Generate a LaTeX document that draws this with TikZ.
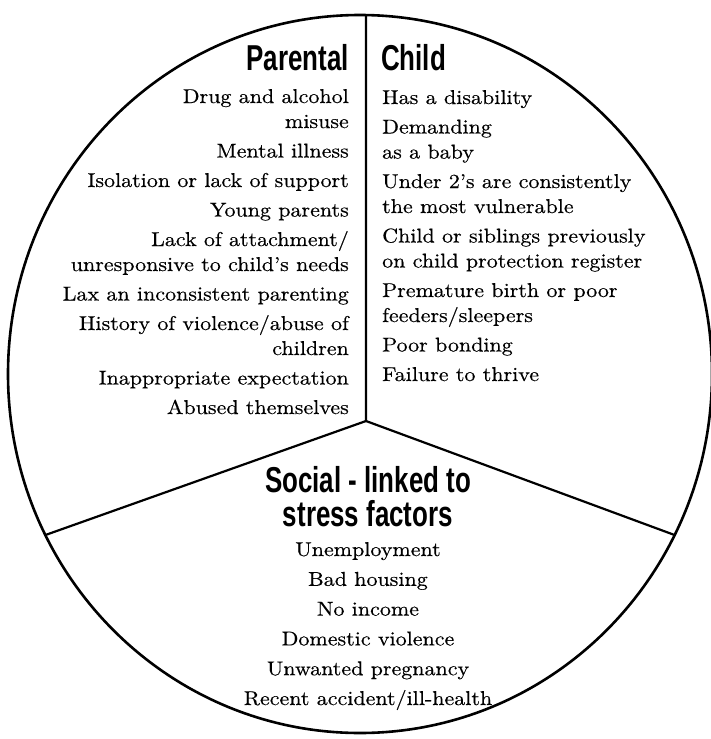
\documentclass[tikz,border=0pt]{standalone}
\usepackage{fontspec}
\setmainfont{lmroman10-regular.otf}[FakeStretch=1.1, FakeBold=0.4]
\newfontfamily\headfont{Liberation Sans}[FakeStretch=0.72]

\begin{document}
\begin{tikzpicture}[x=1pt, y=-1pt,
        rim/.style={line width=2.6pt},
        spoke/.style={line width=2.2pt},
        head/.style={font=\headfont\bfseries\fontsize{36}{34}\selectfont, inner sep=0pt},
        item/.style={font=\fontsize{20}{25}\selectfont, inner sep=0pt},
        socialitem/.style={item, font=\fontsize{20}{29.8}\selectfont},
    ]
    \useasboundingbox (0,0) rectangle (711,739);
    \coordinate (c) at (360,374);
    \coordinate (hub) at (366,421);
    \coordinate (top) at (366,15);
    \path (c) ++(153.35:352 and 359) coordinate (leftend);
    \path (c) ++(26.65:352 and 359) coordinate (rightend);

    \draw[rim] (c) ellipse [x radius=352pt, y radius=359pt];
    \draw[spoke] (top) -- (hub) -- (rightend);
    \draw[spoke] (hub) -- (leftend);

    % base anchors sit on the last line of each block
    \node[head, anchor=base east] (parental) at (349,70) {Parental};
    \node[head, anchor=base west] (child) at (381,70) {Child};
    \node[head, align=center, anchor=base] (social) at (368,526) {Social - linked to\\stress factors};

    \node[item, align=right, anchor=base east] (parentlist) at (349,414) {%
        Drug and alcohol\\misuse\\[4.5pt]
        Mental illness\\[4.5pt]
        Isolation or lack of support\\[4.5pt]
        Young parents\\[4.5pt]
        Lack of attachment/\\unresponsive to child’s needs\\[4.5pt]
        Lax an inconsistent parenting\\[4.5pt]
        History of violence/abuse of\\children\\[4.5pt]
        Inappropriate expectation\\[4.5pt]
        Abused themselves};
    \node[item, align=left, anchor=base west] (childlist) at (382,381) {%
        Has a disability\\[4.5pt]
        Demanding\\as a baby\\[4.5pt]
        Under 2’s are consistently\\the most vulnerable\\[4.5pt]
        Child or siblings previously\\on child protection register\\[4.5pt]
        Premature birth or poor\\feeders/sleepers\\[4.5pt]
        Poor bonding\\[4.5pt]
        Failure to thrive};
    \node[socialitem, align=center, anchor=base] (sociallist) at (368,705) {%
        Unemployment\\
        Bad housing\\
        No income\\
        Domestic violence\\
        Unwanted pregnancy\\
        Recent accident/ill-health};
\end{tikzpicture}
\end{document}
